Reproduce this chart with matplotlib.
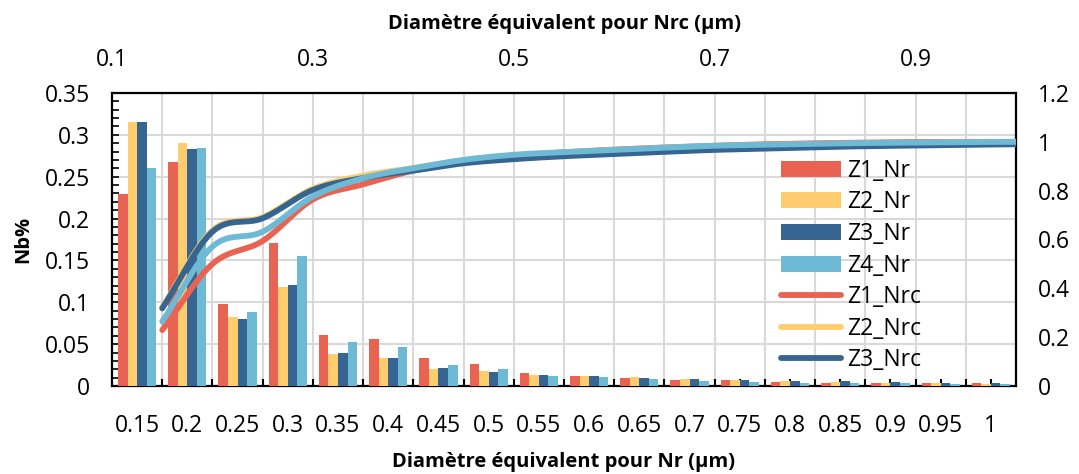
import numpy as np
import matplotlib
matplotlib.use("Agg")
import matplotlib.pyplot as plt
from matplotlib.patches import Patch
from matplotlib.lines import Line2D
from matplotlib.ticker import MultipleLocator, FixedLocator

plt.rcParams['font.family'] = ['Open Sans', 'DejaVu Sans']

# ---------------- data ----------------
categories = ["0.15", "0.2", "0.25", "0.3", "0.35", "0.4", "0.45", "0.5", "0.55",
              "0.6", "0.65", "0.7", "0.75", "0.8", "0.85", "0.9", "0.95", "1"]

z1_nr = [0.229, 0.267, 0.098, 0.171, 0.061, 0.056, 0.033, 0.026, 0.0155,
         0.0123, 0.0096, 0.0072, 0.0070, 0.0050, 0.0040, 0.0040, 0.0036, 0.0032]
z2_nr = [0.315, 0.290, 0.082, 0.118, 0.038, 0.033, 0.020, 0.018, 0.0128,
         0.0123, 0.0104, 0.0088, 0.0070, 0.0060, 0.0044, 0.0036, 0.0030, 0.0024]
z3_nr = [0.315, 0.283, 0.080, 0.121, 0.039, 0.034, 0.021, 0.017, 0.0135,
         0.0123, 0.0100, 0.0080, 0.0070, 0.0064, 0.0060, 0.0044, 0.0036, 0.0030]
z4_nr = [0.261, 0.284, 0.088, 0.155, 0.053, 0.047, 0.025, 0.020, 0.0116,
         0.0104, 0.0080, 0.0056, 0.0048, 0.0040, 0.0036, 0.0030, 0.0024, 0.0020]

diam_nrc = [0.15, 0.2, 0.25, 0.3, 0.35, 0.4, 0.45, 0.5, 0.55,
            0.6, 0.65, 0.7, 0.75, 0.8, 0.85, 0.9, 0.95, 1.0]
z1_nrc = [0.229, 0.500, 0.594, 0.764, 0.826, 0.882, 0.916, 0.942, 0.957,
          0.968, 0.977, 0.984, 0.990, 0.994, 0.997, 0.999, 1.000, 1.000]
z2_nrc = [0.322, 0.638, 0.692, 0.808, 0.862, 0.893, 0.925, 0.945, 0.956,
          0.966, 0.975, 0.982, 0.987, 0.991, 0.994, 0.996, 0.998, 1.000]
z3_nrc = [0.318, 0.632, 0.687, 0.803, 0.852, 0.882, 0.912, 0.929, 0.941,
          0.950, 0.959, 0.967, 0.972, 0.978, 0.982, 0.985, 0.988, 0.990]
z4_nrc = [0.264, 0.571, 0.632, 0.776, 0.851, 0.892, 0.926, 0.947, 0.958,
          0.967, 0.976, 0.984, 0.988, 0.992, 0.995, 0.997, 0.999, 1.000]

top_ticks = [0.1, 0.3, 0.5, 0.7, 0.9]

colors = ["#E96352", "#FFCD6E", "#366592", "#6EBAD4"]
bar_series = [("Z1_Nr", z1_nr), ("Z2_Nr", z2_nr), ("Z3_Nr", z3_nr), ("Z4_Nr", z4_nr)]
line_series = [("Z1_Nrc", z1_nrc), ("Z2_Nrc", z2_nrc), ("Z3_Nrc", z3_nrc), ("Z4_Nrc", z4_nrc)]


def smooth(x, y, n=30):
    """Catmull-Rom smoothing (Excel-like smoothed line)."""
    x = np.asarray(x, float)
    y = np.asarray(y, float)
    P = np.column_stack([x, y])
    P = np.vstack([P[0] - (P[1] - P[0]), P, P[-1] + (P[-1] - P[-2])])
    out = []
    t = np.linspace(0, 1, n, endpoint=False)
    for i in range(1, len(P) - 2):
        p0, p1, p2, p3 = P[i - 1], P[i], P[i + 1], P[i + 2]
        t2, t3 = t * t, t * t * t
        seg = 0.5 * ((2 * p1)[None, :] + (-p0 + p2)[None, :] * t[:, None]
                     + (2 * p0 - 5 * p1 + 4 * p2 - p3)[None, :] * t2[:, None]
                     + (-p0 + 3 * p1 - 3 * p2 + p3)[None, :] * t3[:, None])
        out.append(seg)
    out.append(P[-2][None, :])
    out = np.vstack(out)
    return out[:, 0], out[:, 1]


W, H = 1079, 474
fig = plt.figure(figsize=(W / 100, H / 100), dpi=100)
L, R, T, B = 112, 1016, 93, 386
rect = [L / W, 1 - B / H, (R - L) / W, (B - T) / H]
ax = fig.add_axes(rect)

FS = 16.5
TFS = 14.5
# ---- bars ----
idx = np.arange(len(categories))
bw = 0.19
for k, (name, vals) in enumerate(bar_series):
    ax.bar(idx + (k - 1.5) * bw, vals, width=bw, color=colors[k], label=name, zorder=3)

ax.set_xlim(-0.5, len(categories) - 0.5)
ax.set_ylim(0, 0.35)
ax.yaxis.set_minor_locator(MultipleLocator(0.01))
ax.set_yticks(np.arange(0, 0.351, 0.05))
ax.set_yticklabels(["0", "0.05", "0.1", "0.15", "0.2", "0.25", "0.3", "0.35"])
ax.set_xticks(idx)
ax.set_xticklabels(categories)
ax.xaxis.set_minor_locator(FixedLocator(idx[:-1] + 0.5))
ax.grid(True, axis='y', which='major', color='#D9D9D9', lw=1.5, zorder=0)
ax.grid(True, axis='x', which='minor', color='#D9D9D9', lw=1.5, zorder=0)
ax.set_axisbelow(True)
ax.tick_params(axis='y', which='both', direction='in', length=5, width=1.2,
               labelsize=FS, pad=16, right=False)
ax.tick_params(axis='x', which='both', direction='in', length=5, width=1.5,
               labelsize=FS, pad=20, top=False)
ax.set_xlabel("Diamètre équivalent pour Nr (µm)", fontsize=TFS, fontweight='bold', labelpad=10)
ax.set_ylabel("Nb%", fontsize=TFS, fontweight='bold', labelpad=8)
for s in ax.spines.values():
    s.set_linewidth(1.6)
    s.set_color('black')

# ---- cumulative curves on secondary axes ----
ax2 = fig.add_axes(rect, frameon=False)
ax2.patch.set_visible(False)
for k, (name, vals) in enumerate(line_series):
    xs, ys = smooth(diam_nrc, vals)
    ax2.plot(xs, ys, color=colors[k], lw=4.2, solid_capstyle='round', label=name, zorder=4)
ax2.set_xlim(0.1, 1.0)
ax2.set_ylim(0, 1.2)
ax2.xaxis.tick_top()
ax2.xaxis.set_label_position('top')
ax2.yaxis.tick_right()
ax2.set_xticks(top_ticks)
ax2.set_xticklabels([f"{v:g}" for v in top_ticks])
ax2.set_yticks(np.arange(0, 1.21, 0.2))
ax2.set_yticklabels(["0", "0.2", "0.4", "0.6", "0.8", "1", "1.2"])
ax2.tick_params(axis='both', length=0, labelsize=FS)
ax2.tick_params(axis='y', pad=16)
ax2.tick_params(axis='x', pad=15)
ax2.set_xlabel("Diamètre équivalent pour Nrc (µm)", fontsize=TFS, fontweight='bold', labelpad=14)

# ---- legend ----
handles = [Patch(facecolor=colors[k], edgecolor='none') for k in range(4)]
handles += [Line2D([0], [0], color=colors[k], lw=4.2, solid_capstyle='round') for k in range(3)]
labels = ["Z1_Nr", "Z2_Nr", "Z3_Nr", "Z4_Nr", "Z1_Nrc", "Z2_Nrc", "Z3_Nrc"]
ax2.legend(handles, labels, loc='upper left', bbox_to_anchor=(0.74, 0.775),
           frameon=False, fontsize=FS, handlelength=2.6, handletextpad=0.3,
           labelspacing=0.33, borderaxespad=0, borderpad=0)

fig.savefig("out.png", dpi=100)
